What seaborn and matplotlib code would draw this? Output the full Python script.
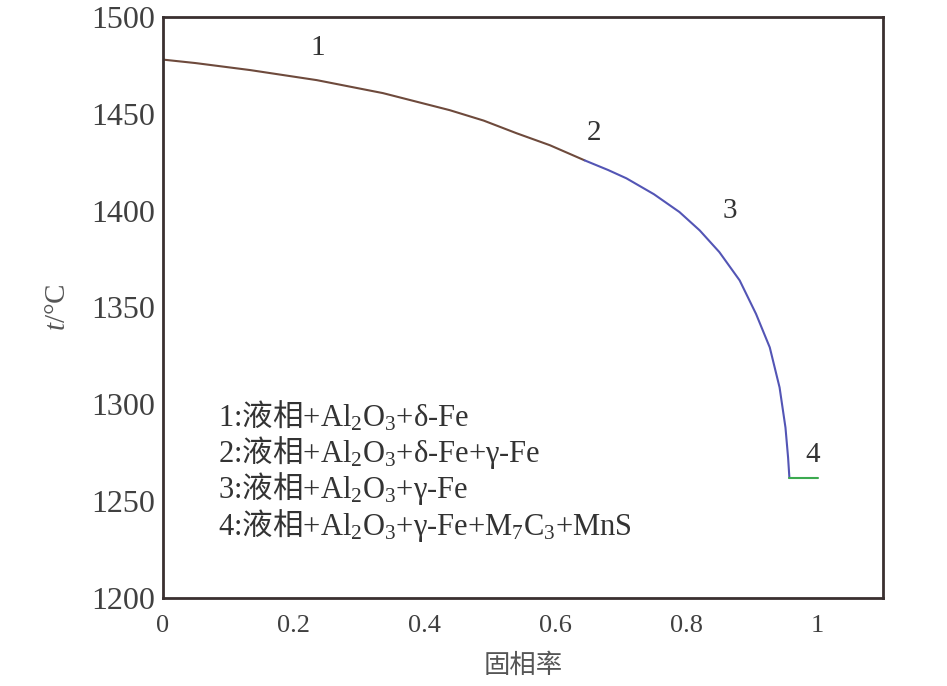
import matplotlib
matplotlib.use("Agg")
import matplotlib.pyplot as plt
import seaborn as sns
import pandas as pd

# ---- data ----
seg1_x = [0.0, 0.05, 0.133, 0.235, 0.336, 0.438, 0.49, 0.540, 0.591, 0.644]
seg1_t = [1478, 1476.2, 1472.6, 1467.4, 1460.7, 1451.9, 1446.5, 1440.0, 1433.8, 1426.0]
seg2_x = [0.644, 0.68, 0.708, 0.75, 0.789, 0.820, 0.850, 0.881, 0.906, 0.927, 0.942, 0.951, 0.955, 0.957]
seg2_t = [1426.0, 1421.0, 1416.7, 1408.5, 1399.3, 1389.8, 1378.6, 1364.0, 1346.7, 1329.4, 1308.7, 1288.0, 1272.5, 1262.0]
seg3_x = [0.957, 1.0]
seg3_t = [1262.0, 1262.0]

seg_labels = ["1", "2", "3", "4"]
seg_label_x = [0.237, 0.658, 0.866, 0.992]
seg_label_t = [1484, 1440, 1400, 1274]

legend_lines = [
    r"1:$\mathsf{液相}$+Al$_2$O$_3$+δ-Fe",
    r"2:$\mathsf{液相}$+Al$_2$O$_3$+δ-Fe+γ-Fe",
    r"3:$\mathsf{液相}$+Al$_2$O$_3$+γ-Fe",
    r"4:$\mathsf{液相}$+Al$_2$O$_3$+γ-Fe+M$_7$C$_3$+MnS",
]

x_ticks = [0, 0.2, 0.4, 0.6, 0.8, 1]
x_tick_labels = ["0", "0.2", "0.4", "0.6", "0.8", "1"]
y_ticks = [1200, 1250, 1300, 1350, 1400, 1450, 1500]

sns.set_theme(style="white")
plt.rcParams["font.family"] = ["Liberation Serif", "Noto Sans CJK SC"]
plt.rcParams["mathtext.fontset"] = "custom"
plt.rcParams["mathtext.rm"] = "Liberation Serif"
plt.rcParams["mathtext.it"] = "Liberation Serif:italic"
plt.rcParams["mathtext.sf"] = "Noto Sans CJK SC"

fig = plt.figure(figsize=(9.47, 6.86), dpi=100)
ax = fig.add_axes([163 / 947, 1 - 598 / 686, (883 - 163) / 947, (598 - 17) / 686])

colors = ["#6e4a3c", "#5355b5", "#3caa50"]
for xs, ts, c in [(seg1_x, seg1_t, colors[0]), (seg2_x, seg2_t, colors[1]), (seg3_x, seg3_t, colors[2])]:
    df = pd.DataFrame({"x": xs, "t": ts})
    sns.lineplot(data=df, x="x", y="t", ax=ax, color=c, linewidth=1.5, estimator=None, sort=False)

ax.set_xlim(0, 1.1)
ax.set_ylim(1200, 1500)
ax.set_xticks(x_ticks)
ax.set_xticklabels(x_tick_labels)
ax.set_yticks(y_ticks)

txt_color = "#404040"
ax.tick_params(axis="both", direction="in", length=7, width=2, color="#2a2020",
               labelcolor=txt_color)
ax.tick_params(axis="x", labelsize=19, pad=12)
ax.tick_params(axis="y", labelsize=23, pad=6)
for s in ax.spines.values():
    s.set_color("#3a3030")
    s.set_linewidth(2)

ax.set_xlabel("固相率", fontsize=19, color="#555555", labelpad=12)
ax.set_ylabel("$t$/°C", fontsize=21, color="#555555", labelpad=14)

for lab, lx, lt in zip(seg_labels, seg_label_x, seg_label_t):
    ax.text(lx, lt, lab, fontsize=21, color="#333333", ha="center", va="center")

for i, line in enumerate(legend_lines):
    ax.text(0.084, 1294 - i * 18.8, line, fontsize=22, color="#333333", ha="left", va="center")

fig.savefig("out.png", dpi=100, facecolor="white")
